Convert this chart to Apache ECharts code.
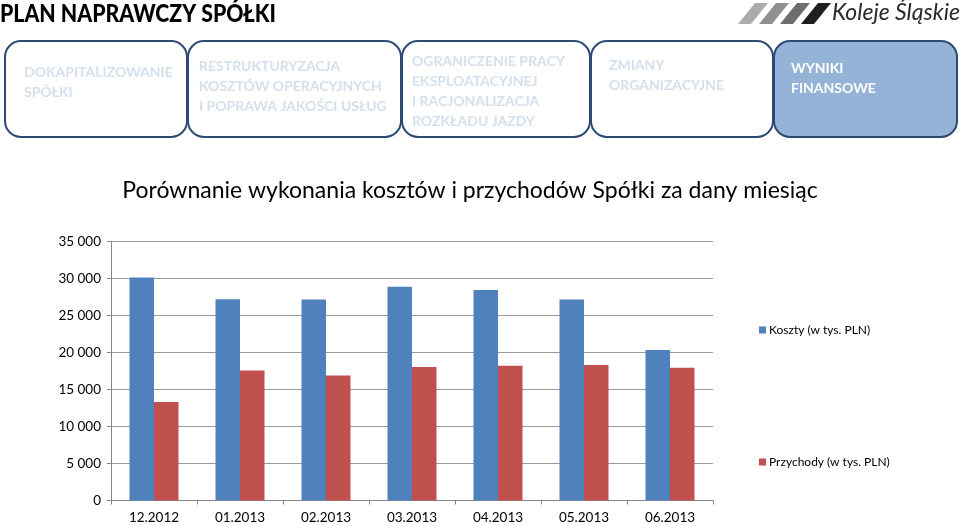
<!DOCTYPE html>
<html>
<head>
<meta charset="utf-8">
<script src="https://cdn.jsdelivr.net/npm/echarts@6/dist/echarts.min.js"></script>
<style>html,body{margin:0;padding:0;background:#fff}#c{width:960px;height:525px}</style>
</head>
<body>
<div id="c"></div>
<script>
var categories = ['12.2012','01.2013','02.2013','03.2013','04.2013','05.2013','06.2013'];
var koszty = [30150, 27200, 27150, 28900, 28450, 27150, 20350];
var przychody = [13300, 17570, 16900, 18050, 18200, 18300, 17950];
var seriesNames = ['Koszty (w tys. PLN)', 'Przychody (w tys. PLN)'];
var yTicks = [0, 5000, 10000, 15000, 20000, 25000, 30000, 35000];
var boxTexts = [
  'DOKAPITALIZOWANIE\nSPÓŁKI',
  'RESTRUKTURYZACJA\nKOSZTÓW OPERACYJNYCH\nI POPRAWA JAKOŚCI USŁUG',
  'OGRANICZENIE PRACY\nEKSPLOATACYJNEJ\nI RACJONALIZACJA\nROZKŁADU JAZDY',
  'ZMIANY\nORGANIZACYJNE',
  'WYNIKI\nFINANSOWE'
];

var FONT = 'Lato, "Open Sans", sans-serif';
var chart = echarts.init(document.getElementById('c'));

var boxes = [
  {x: 5, w: 182, tx: 24, ty: 62},
  {x: 188, w: 213, tx: 199, ty: 56},
  {x: 402, w: 188, tx: 412, ty: 51},
  {x: 591, w: 182, tx: 609, ty: 55},
  {x: 774, w: 183, tx: 791, ty: 58}
];
var graphics = [];
graphics.push({type: 'text', x: 0, y: 1, scaleX: 0.85, style: {text: 'PLAN NAPRAWCZY SPÓŁKI', fill: '#000', font: '900 25px ' + FONT}});
boxes.forEach(function (b, i) {
  var active = i === 4;
  graphics.push({type: 'rect', shape: {x: b.x, y: 41, width: b.w, height: 96, r: 16},
    style: {fill: active ? '#95b3d7' : '#fff', stroke: '#2c4a72', lineWidth: 2}});
  graphics.push({type: 'text', x: b.tx, y: b.ty, style: {text: boxTexts[i], fill: active ? '#fff' : '#d6e0ec',
    font: 'bold 14px ' + FONT, lineHeight: 20}});
});
// logo stripes
var stripeColors = ['#ababab', '#919191', '#6e6e6e', '#1f1f1f'];
stripeColors.forEach(function (c, i) {
  var x0 = 738 + i * 21;
  graphics.push({type: 'polygon', shape: {points: [[x0, 24], [x0 + 13, 24], [x0 + 30, 3], [x0 + 17, 3]]},
    style: {fill: c}});
});
graphics.push({type: 'text', x: 832, y: 1, style: {text: 'Koleje Śląskie', fill: '#2a2a2a', font: 'italic 23px ' + FONT}});

chart.setOption({
  animation: false,
  title: {text: 'Porównanie wykonania kosztów i przychodów Spółki za dany miesiąc', left: 465, textAlign: 'center', top: 174,
    textStyle: {fontFamily: FONT, fontWeight: 'normal', fontSize: 23, color: '#000'}},
  graphic: graphics,
  legend: {orient: 'vertical', left: 754, top: 319, itemGap: 120, itemWidth: 7, itemHeight: 7, icon: 'rect',
    data: seriesNames, textStyle: {fontFamily: FONT, fontSize: 12, color: '#000', padding: [0, 0, 0, -2]}},
  grid: {left: 111, right: 247, top: 241.5, bottom: 24.5},
  xAxis: {type: 'category', data: categories,
    axisLine: {lineStyle: {color: '#868686'}},
    axisTick: {show: true, length: 4, lineStyle: {color: '#868686'}},
    axisLabel: {fontFamily: FONT, fontSize: 13.5, color: '#000', margin: 10}},
  yAxis: {type: 'value', min: 0, max: 35000, interval: 5000,
    axisLine: {show: true, lineStyle: {color: '#868686'}},
    axisTick: {show: true, length: 4, lineStyle: {color: '#868686'}},
    splitLine: {lineStyle: {color: '#9a9a9a'}},
    axisLabel: {fontFamily: FONT, fontSize: 13.5, color: '#000', margin: 10,
      formatter: function (v) { return String(v).replace(/\B(?=(\d{3})+(?!\d))/g, ' '); }}},
  series: [
    {name: seriesNames[0], type: 'bar', data: koszty, barGap: '0%', barCategoryGap: '43%', itemStyle: {color: '#4f81bd'}},
    {name: seriesNames[1], type: 'bar', data: przychody, itemStyle: {color: '#c0504d'}}
  ]
});
</script>
</body>
</html>
